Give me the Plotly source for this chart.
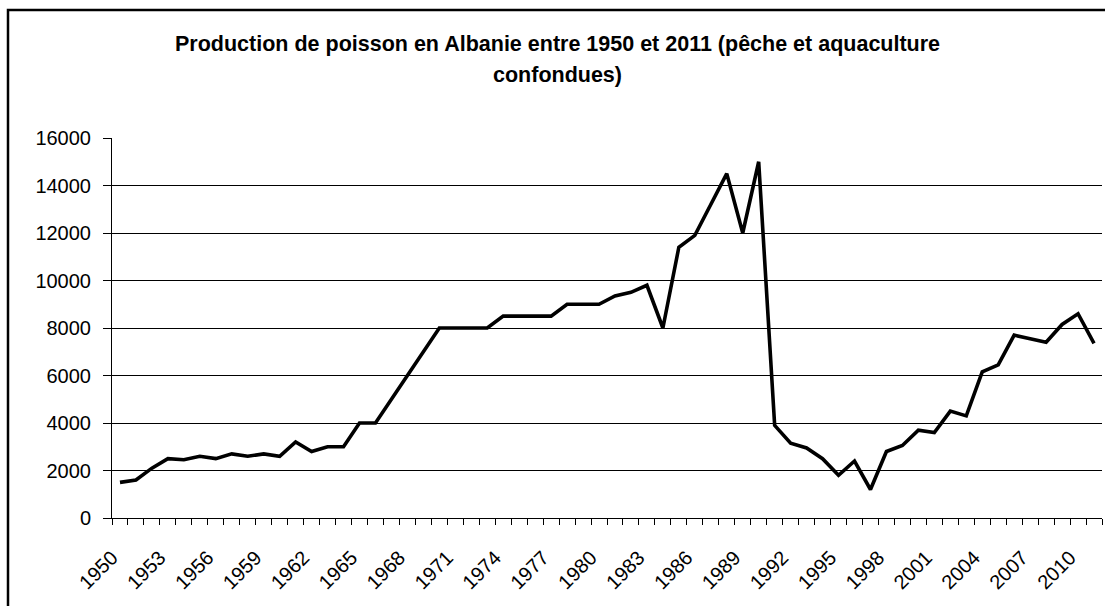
import plotly.graph_objects as go

# Fish production in Albania, tonnes (capture + aquaculture)
years = list(range(1950, 2012))
production = [
    1500, 1600, 2100, 2500, 2450, 2600, 2500, 2700, 2600, 2700,   # 1950-1959
    2600, 3200, 2800, 3000, 3000, 4000, 4000, 5000, 6000, 7000,   # 1960-1969
    8000, 8000, 8000, 8000, 8500, 8500, 8500, 8500, 9000, 9000,   # 1970-1979
    9000, 9350, 9500, 9800, 8000, 11400, 11900, 13200, 14500, 12000,  # 1980-1989
    15000, 3900, 3150, 2950, 2500, 1800, 2400, 1200, 2800, 3050,  # 1990-1999
    3700, 3600, 4500, 4300, 6150, 6450, 7700, 7550, 7400, 8150,   # 2000-2009
    8600, 7350,                                                   # 2010-2011
]
label_years = list(range(1950, 2012, 3))
y_ticks = list(range(0, 16001, 2000))

title_lines = [
    "Production de poisson en Albanie entre 1950 et 2011 (pêche et aquaculture",
    "confondues)",
]

W, H = 1105, 606
ML, MR, MT, MB = 112, 3, 138, 88
pw, ph = W - ML - MR, H - MT - MB


def px_x(x):
    """Pixel column -> paper x."""
    return (x - ML) / pw


def px_y(y):
    """Pixel row (from top) -> paper y."""
    return (H - MB - y) / ph


fig = go.Figure()
fig.add_trace(go.Scatter(
    x=years, y=production, mode="lines",
    line=dict(color="black", width=3.6),
    hoverinfo="x+y", showlegend=False,
))

font = "Arial, Liberation Sans, sans-serif"

fig.update_layout(
    width=W, height=H,
    margin=dict(l=ML, r=MR, t=MT, b=MB, pad=0),
    paper_bgcolor="white", plot_bgcolor="white",
    font=dict(family=font, size=20, color="black"),
    xaxis=dict(
        range=[years[0] - 0.5, years[-1] + 0.5],
        tickmode="array", tickvals=label_years,
        ticktext=[str(v) for v in label_years],
        tickangle=-45, ticks="outside", ticklen=0,
        ticklabelshift=-8, ticklabelstandoff=19,
        showgrid=False, zeroline=False,
        showline=True, linecolor="black", linewidth=1,
        minor=dict(tick0=years[0] - 0.5, dtick=1, ticks="outside",
                   ticklen=6, tickcolor="black", tickwidth=1, showgrid=False),
        tickfont=dict(size=20),
    ),
    yaxis=dict(
        range=[0, 16000], tickmode="array", tickvals=y_ticks,
        ticktext=[str(v) for v in y_ticks],
        ticks="outside", ticklen=8, tickcolor="black",
        showgrid=True, gridcolor="black", gridwidth=1,
        zeroline=False, showline=True, linecolor="black", linewidth=1,
        ticklabelstandoff=8,
        tickfont=dict(size=20),
    ),
)

# Chart frame (left and top edges show; the rest runs off the page)
fig.add_shape(
    type="rect", xref="paper", yref="paper",
    x0=px_x(8), x1=px_x(W + 10),
    y0=px_y(H + 10), y1=px_y(10),
    line=dict(color="black", width=2.5), fillcolor="rgba(0,0,0,0)", layer="above",
)

for txt, ypx in zip(title_lines, [44, 75]):
    fig.add_annotation(
        text=f"<b>{txt}</b>", xref="paper", yref="paper",
        x=px_x(557), y=px_y(ypx),
        showarrow=False, xanchor="center", yanchor="middle",
        font=dict(family=font, size=21.5, color="black"),
    )

fig.write_html("out.html")
